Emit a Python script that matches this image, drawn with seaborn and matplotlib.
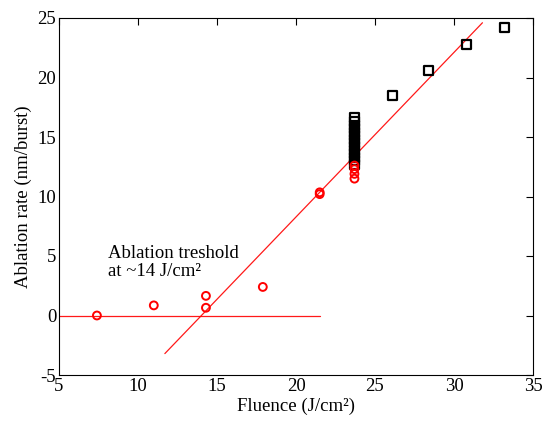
import matplotlib
matplotlib.use("Agg")
import matplotlib.pyplot as plt
import seaborn as sns
import numpy as np

sns.set_style("white")
plt.rcParams['font.family'] = ['Liberation Serif', 'DejaVu Serif']
plt.rcParams['axes.unicode_minus'] = False
plt.rcParams['text.color'] = 'black'
plt.rcParams['axes.labelcolor'] = 'black'

# data
red_x = [7.4, 11.0, 14.3, 14.3, 17.9, 21.5, 21.5, 23.7, 23.7, 23.7, 23.7]
red_y = [0.0, 0.85, 1.65, 0.65, 2.4, 10.2, 10.35, 11.5, 11.9, 12.3, 12.6]
blk_x = [23.7] * 14 + [26.1, 28.4, 30.8, 33.2]
blk_y = [12.7, 13.0, 13.3, 13.6, 13.9, 14.2, 14.5, 14.8, 15.1, 15.4, 15.7, 16.0, 16.3, 16.6,
         18.5, 20.6, 22.8, 24.2]
fit_x = [11.7, 31.8]
fit_y = [-3.2, 24.6]
base_x = [5.0, 21.5]
base_y = [0.0, 0.0]
xticks = [5, 10, 15, 20, 25, 30, 35]
yticks = [-5, 0, 5, 10, 15, 20, 25]

fig = plt.figure(figsize=(5.44, 4.24), dpi=100)
ax = fig.add_axes([59/544, 1 - 375/424, (533-59)/544, (375-18)/424])

sns.lineplot(x=base_x, y=base_y, ax=ax, color='red', lw=0.9, alpha=0.9)
sns.lineplot(x=fit_x, y=fit_y, ax=ax, color='red', lw=0.9, alpha=0.9)
sns.scatterplot(x=blk_x, y=blk_y, ax=ax, marker='s', s=42, facecolors='none',
                edgecolor='black', linewidth=1.6, zorder=3)
sns.scatterplot(x=red_x, y=red_y, ax=ax, marker='o', s=32, facecolors='none',
                edgecolor='red', linewidth=1.4, zorder=4)

ax.set_xlim(5, 35)
ax.set_ylim(-5, 25)
ax.set_xticks(xticks)
ax.set_yticks(yticks)
ax.tick_params(direction='in', top=True, right=True, length=5, width=0.8,
               labelsize=13.5, colors='black', pad=2)
for s in ax.spines.values():
    s.set_color('black')
    s.set_linewidth(0.8)
ax.set_xlabel('Fluence (J/cm²)', fontsize=13.5, labelpad=2)
ax.set_ylabel('Ablation rate (nm/burst)', fontsize=13.5, labelpad=4)
ax.text(8.1, 5.9, 'Ablation treshold\nat ~14 J/cm²', fontsize=13.5, va='top', ha='left',
        linespacing=1.05)

fig.savefig('out.png', dpi=100)
